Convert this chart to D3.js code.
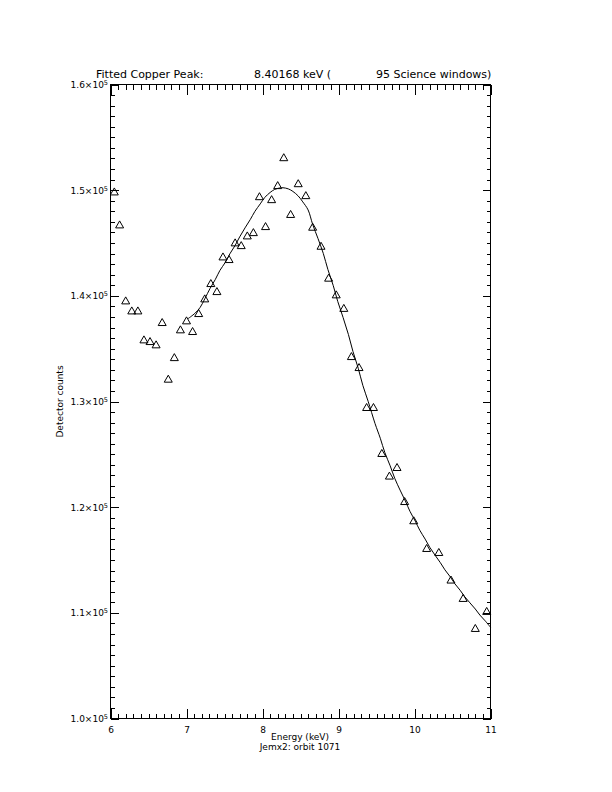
<!DOCTYPE html>
<html><head><meta charset="utf-8">
<script src="https://cdn.jsdelivr.net/npm/d3@7"></script>
<style>
body{margin:0;background:#fff}
svg{display:block}
text{font-family:"DejaVu Sans",sans-serif;fill:#000}
</style>
</head><body>
<script>
// ---- data ----
const energies=[6.05,6.12,6.20,6.28,6.36,6.44,6.52,6.60,6.68,6.76,6.84,6.92,7.00,7.08,7.16,7.24,7.32,7.40,7.48,7.56,7.64,7.72,7.80,7.88,7.96,8.04,8.12,8.20,8.28,8.37,8.47,8.57,8.66,8.77,8.87,8.97,9.07,9.17,9.27,9.37,9.46,9.57,9.67,9.77,9.87,9.99,10.16,10.32,10.48,10.64,10.80,10.95];
const counts=[149880,146760,139570,138620,138620,135880,135720,135410,137520,132160,134200,136830,137680,136670,138370,139760,141210,140450,143730,143480,145060,144800,145720,146030,149430,146600,149150,150480,153120,147750,150660,149530,146540,144740,141720,140140,138860,134300,133260,129480,129480,125130,122990,123800,120580,118760,116140,115760,113150,111410,108570,110180];
const fitEnergies=[7.02,7.11,7.18,7.24,7.31,7.38,7.44,7.51,7.57,7.64,7.70,7.77,7.84,7.90,7.97,8.03,8.10,8.16,8.23,8.27,8.34,8.40,8.47,8.53,8.60,8.66,8.73,8.80,8.86,8.93,8.99,9.06,9.13,9.19,9.26,9.32,9.39,9.48,9.55,9.61,9.68,9.74,9.81,9.88,9.94,10.01,10.07,10.14,10.20,10.27,10.34,10.40,10.47,10.53,10.60,10.66,10.73,10.80,10.86,10.93,11.00];
const fitCounts=[137840,138340,138910,139710,140700,141560,142410,143160,143970,144770,145580,146430,147230,147990,148700,149310,149780,150070,150210,150230,150120,149880,149450,148890,148130,146760,145430,144010,142500,140990,139470,137960,136350,134740,133140,131530,130020,127930,126520,125160,123910,122730,121620,120580,119610,118680,117810,116980,116210,115460,114750,114070,113410,112760,112140,111530,110940,110360,109790,109240,108640];
const xTicks=[6,7,8,9,10,11];
const xTickLabels=["6","7","8","9","10","11"];
const yTicks=[100000,110000,120000,130000,140000,150000,160000];
const yTickMantissa=["1.0","1.1","1.2","1.3","1.4","1.5","1.6"];
const yTickExponent="5";
const titleParts=["Fitted Copper Peak:","8.40168 keV (","95 Science windows)"];
const xTitle="Energy (keV)";
const subTitle="Jemx2: orbit 1071";
const yTitle="Detector counts";

// ---- layout ----
const W=612,H=792,L=110.5,R=490.5,T=84.5,B=718.5;
const svg=d3.select("body").append("svg").attr("width",W).attr("height",H);
svg.append("rect").attr("width",W).attr("height",H).attr("fill","#fff");

const x=d3.scaleLinear().domain([6,11]).range([L,R]);
const y=d3.scaleLinear().domain([100000,160000]).range([B,T]);

function clean(g){g.select(".domain").remove();g.attr("font-family",null).attr("font-size",null);g.selectAll("line").attr("stroke","#000").attr("shape-rendering","crispEdges");}

const xMinor=d3.range(60,111).map(v=>v/10);
const yMinor=d3.range(100,161).map(v=>v*1000);

// bottom
svg.append("g").attr("transform",`translate(0,${B})`)
  .call(d3.axisBottom(x).tickValues(xMinor).tickSizeInner(-5).tickSizeOuter(0).tickFormat(""))
  .call(clean);
const gb=svg.append("g").attr("transform",`translate(0,${B})`)
  .call(d3.axisBottom(x).tickValues(xTicks).tickSizeInner(-10).tickSizeOuter(0).tickPadding(8.5).tickFormat((d,i)=>xTickLabels[i]))
  .call(clean);
gb.selectAll("text").attr("font-size","9px");
// top
svg.append("g").attr("transform",`translate(0,${T})`)
  .call(d3.axisTop(x).tickValues(xMinor).tickSizeInner(-5).tickSizeOuter(0).tickFormat(""))
  .call(clean);
svg.append("g").attr("transform",`translate(0,${T})`)
  .call(d3.axisTop(x).tickValues(xTicks).tickSizeInner(-10).tickSizeOuter(0).tickFormat(""))
  .call(clean);
// left
svg.append("g").attr("transform",`translate(${L},0)`)
  .call(d3.axisLeft(y).tickValues(yMinor).tickSizeInner(-4).tickSizeOuter(0).tickFormat(""))
  .call(clean);
const gl=svg.append("g").attr("transform",`translate(${L},0)`)
  .call(d3.axisLeft(y).tickValues(yTicks).tickSizeInner(-8).tickSizeOuter(0).tickPadding(2.5).tickFormat(""))
  .call(clean);
gl.selectAll(".tick text").each(function(d,i){
  const t=d3.select(this).attr("font-size","9px");
  t.text(null);
  t.append("tspan").text(yTickMantissa[i]+"\u00d710");
  t.append("tspan").attr("dy","-0.45em").attr("font-size","6.5px").text(yTickExponent);
});
// right
svg.append("g").attr("transform",`translate(${R},0)`)
  .call(d3.axisRight(y).tickValues(yMinor).tickSizeInner(-4).tickSizeOuter(0).tickFormat(""))
  .call(clean);
svg.append("g").attr("transform",`translate(${R},0)`)
  .call(d3.axisRight(y).tickValues(yTicks).tickSizeInner(-8).tickSizeOuter(0).tickFormat(""))
  .call(clean);

// frame
svg.append("rect").attr("x",L).attr("y",T).attr("width",R-L).attr("height",B-T)
  .attr("fill","none").attr("stroke","#000").attr("shape-rendering","crispEdges");

// fit line
const line=d3.line().x(d=>x(d[0])).y(d=>y(d[1])).curve(d3.curveCatmullRom);
svg.append("path").datum(fitEnergies.map((e,i)=>[e,fitCounts[i]]))
  .attr("d",line).attr("fill","none").attr("stroke","#000").attr("stroke-width",1);

// data triangles
svg.append("g").selectAll("path").data(energies.map((e,i)=>[e,counts[i]])).join("path")
  .attr("d",d=>{const cx=x(d[0]),cy=y(d[1]);return `M${cx-4},${cy+3.5}L${cx},${cy-3.5}L${cx+4},${cy+3.5}Z`;})
  .attr("fill","none").attr("stroke","#000").attr("stroke-width",1);

// texts
const titleX=[96,254,376];
titleParts.forEach((s,i)=>svg.append("text").attr("x",titleX[i]).attr("y",78).attr("font-size","11px").text(s));
svg.append("text").attr("x",300).attr("y",740).attr("text-anchor","middle").attr("font-size","9px").text(xTitle);
svg.append("text").attr("x",300).attr("y",749.5).attr("text-anchor","middle").attr("font-size","9px").text(subTitle);
svg.append("text").attr("transform",`translate(63,${(T+B)/2}) rotate(-90)`).attr("text-anchor","middle").attr("font-size","9px").text(yTitle);
</script>
</body></html>
